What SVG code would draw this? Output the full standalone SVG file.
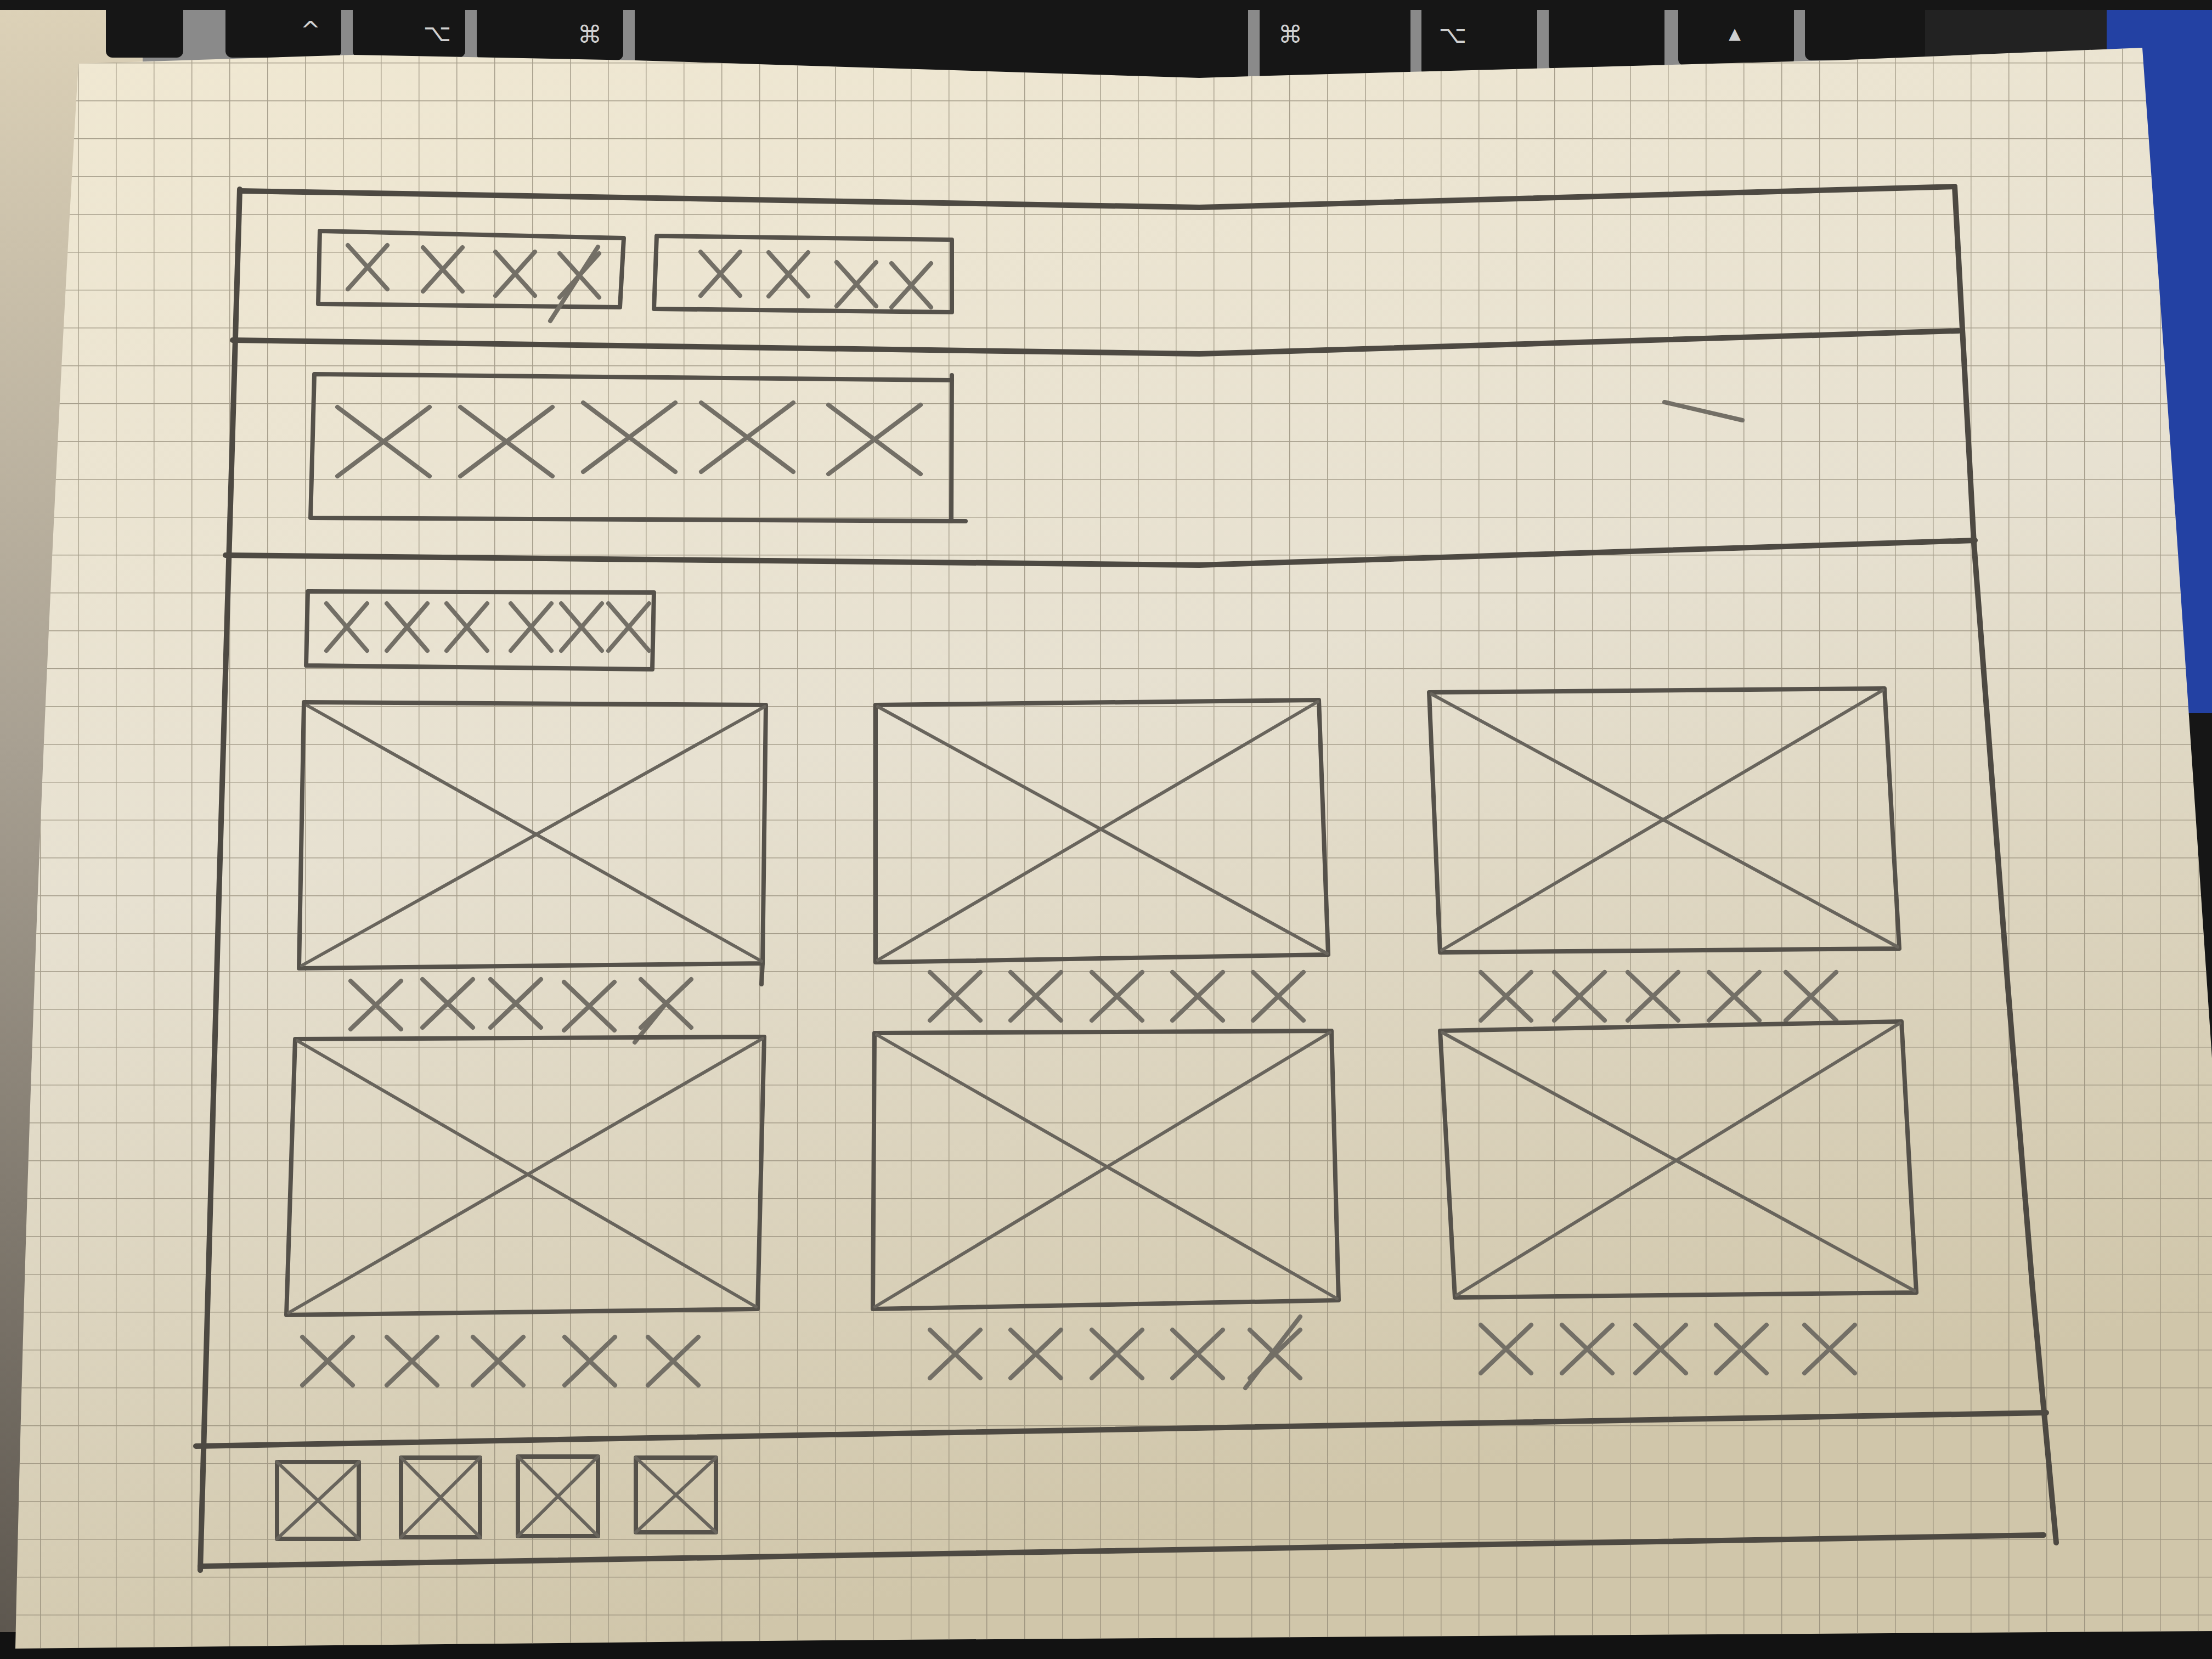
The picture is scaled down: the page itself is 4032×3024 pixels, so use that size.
<svg xmlns="http://www.w3.org/2000/svg" xmlns:xlink="http://www.w3.org/1999/xlink" width="4032" height="3024" viewBox="0 0 4032 3024">
<style>
.frame{fill:none;stroke:#4d4942;stroke-width:10;stroke-linecap:round;stroke-linejoin:round}
.box{fill:none;stroke:#55514a;stroke-width:8;stroke-linecap:round;stroke-linejoin:round}
.diag{fill:none;stroke:#68645c;stroke-width:6;stroke-linecap:round}
.mark{fill:none;stroke:#736f66;stroke-width:8;stroke-linecap:round}
.key{fill:#161616}
.klbl{font-family:"DejaVu Sans",sans-serif;font-size:44px;fill:#d0d0d0;text-anchor:middle}
</style>
<defs>
<linearGradient id="paperG" x1="0" y1="0" x2="0.3" y2="1">
<stop offset="0" stop-color="#f0e8d2"/>
<stop offset="0.5" stop-color="#e7e1d1"/>
<stop offset="1" stop-color="#d0c6aa"/>
</linearGradient>
<linearGradient id="leftG" x1="0" y1="0" x2="0" y2="1">
<stop offset="0" stop-color="#ddd2b8"/>
<stop offset="0.45" stop-color="#a8a092"/>
<stop offset="1" stop-color="#5b554d"/>
</linearGradient>
<pattern id="grid" patternUnits="userSpaceOnUse" x="4" y="45" width="69" height="69">
<path d="M0,0 H69 M0,0 V69" fill="none" stroke="#8a8270" stroke-opacity="0.7" stroke-width="3"/>
</pattern>
<clipPath id="paperClip">
<path d="M143,116 L643,100 L1157,110 L2186,142 L2314,138 L3343,110 L3905,87 L3967,964 L4032,1929 L4032,2973 L1500,2990 L28,3005 Q60,1500 143,116 Z"/>
</clipPath>
<path id="xs" d="M-46,-44 L46,44 M46,-44 L-46,44"/>
<path id="xn" d="M-36,-40 L36,40 M36,-40 L-36,40"/>
<path id="xh" d="M-84,-63 L84,63 M84,-63 L-84,63"/>
<path id="xt" d="M-37,-43 L37,43 M37,-43 L-37,43"/>
</defs>

<!-- background -->
<rect x="0" y="0" width="4032" height="3024" fill="#161616"/>
<rect x="0" y="0" width="4032" height="160" fill="#8a8a8a"/>
<rect x="0" y="0" width="260" height="3024" fill="url(#leftG)"/>
<rect x="3840" y="0" width="192" height="1300" fill="#2341a3"/>
<rect x="3500" y="0" width="340" height="160" fill="#222222"/>
<rect x="0" y="2975" width="4032" height="49" fill="#121212"/>

<!-- keyboard -->
<g id="keyboard">
<rect class="key" x="0" y="-40" width="4032" height="58"/>
<rect class="key" x="193" y="-20" width="141" height="125" rx="12"/>
<rect class="key" x="411" y="-20" width="211" height="125" rx="12"/>
<rect class="key" x="643" y="-20" width="205" height="125" rx="12"/>
<rect class="key" x="869" y="-20" width="267" height="130" rx="12"/>
<rect class="key" x="1157" y="-20" width="1118" height="170" rx="12"/>
<rect class="key" x="2296" y="-20" width="275" height="170" rx="12"/>
<rect class="key" x="2591" y="-20" width="211" height="160" rx="12"/>
<rect class="key" x="2823" y="-20" width="211" height="150" rx="12"/>
<rect class="key" x="3059" y="-20" width="211" height="140" rx="12"/>
<rect class="key" x="3290" y="-20" width="219" height="130" rx="12"/>
<text class="klbl" x="566" y="70">^</text>
<text class="klbl" x="797" y="75">⌥</text>
<text class="klbl" x="1075" y="78">⌘</text>
<text class="klbl" x="2352" y="78">⌘</text>
<text class="klbl" x="2648" y="78">⌥</text>
<text class="klbl" x="3162" y="75">▴</text>
</g>

<!-- paper -->
<g id="paper">
<path d="M143,116 L643,100 L1157,110 L2186,142 L2314,138 L3343,110 L3905,87 L3967,964 L4032,1929 L4032,2973 L1500,2990 L28,3005 Q60,1500 143,116 Z" fill="url(#paperG)"/>
<rect x="0" y="0" width="4032" height="3024" fill="url(#grid)" clip-path="url(#paperClip)"/>
</g>

<!-- page frame and section dividers -->
<g id="page-frame">
<polyline class="frame" points="437,348 2186,378 3563,340"/>
<polyline class="frame" points="437,345 400,1600 365,2862"/>
<polyline class="frame" points="3563,340 3598,990 3660,1800 3705,2350 3748,2812"/>
<polyline class="frame" points="424,620 2186,645 3570,603"/>
<polyline class="frame" points="411,1012 2186,1030 3600,985"/>
<polyline class="frame" points="357,2636 3730,2575"/>
<polyline class="frame" points="365,2855 3725,2798"/>
<path class="mark" d="M3034,733 L3176,766"/>
</g>

<!-- nav item 1 -->
<g id="nav-1">
<polygon class="box" points="583,421 1137,434 1130,560 580,554"/>
<use href="#xn" class="mark" x="670" y="487"/>
<use href="#xn" class="mark" x="807" y="491"/>
<use href="#xn" class="mark" x="939" y="499"/>
<use href="#xn" class="mark" x="1056" y="502"/>
<path class="mark" d="M1090,450 L1003,585"/>
</g>

<!-- nav item 2 -->
<g id="nav-2">
<polygon class="box" points="1197,430 1735,437 1735,569 1192,563"/>
<use href="#xn" class="mark" x="1313" y="499"/>
<use href="#xn" class="mark" x="1437" y="500"/>
<use href="#xn" class="mark" x="1561" y="518"/>
<use href="#xn" class="mark" x="1661" y="520"/>
</g>

<!-- hero title -->
<g id="hero">
<polyline class="box" points="1735,693 573,682 566,944 1760,950"/>
<line class="box" x1="1735" y1="684" x2="1734" y2="950"/>
<use href="#xh" class="mark" x="699" y="805"/>
<use href="#xh" class="mark" x="923" y="805"/>
<use href="#xh" class="mark" x="1147" y="797"/>
<use href="#xh" class="mark" x="1362" y="797"/>
<use href="#xh" class="mark" x="1594" y="801"/>
</g>

<!-- section title -->
<g id="section-title">
<polygon class="box" points="561,1078 1192,1080 1189,1220 558,1213"/>
<use href="#xt" class="mark" x="632" y="1143"/>
<use href="#xt" class="mark" x="742" y="1143"/>
<use href="#xt" class="mark" x="851" y="1143"/>
<use href="#xt" class="mark" x="968" y="1143"/>
<use href="#xt" class="mark" x="1060" y="1143"/>
<use href="#xt" class="mark" x="1146" y="1143"/>
</g>

<!-- cards row 1 -->
<g id="card-1">
<polygon class="box" points="554,1280 1396,1285 1390,1756 545,1765"/>
<line class="box" x1="1390" y1="1756" x2="1388" y2="1794"/>
<line class="diag" x1="560" y1="1286" x2="1388" y2="1752"/>
<line class="diag" x1="1394" y1="1288" x2="550" y2="1760"/>
<use href="#xs" class="mark" x="685" y="1832"/>
<use href="#xs" class="mark" x="816" y="1829"/>
<use href="#xs" class="mark" x="940" y="1829"/>
<use href="#xs" class="mark" x="1074" y="1834"/>
<use href="#xs" class="mark" x="1214" y="1829"/>
<path class="mark" d="M1214,1829 L1157,1900"/>
</g>
<g id="card-2">
<polygon class="box" points="1596,1285 2404,1276 2421,1740 1596,1754"/>
<line class="diag" x1="1600" y1="1288" x2="2419" y2="1738"/>
<line class="diag" x1="2402" y1="1279" x2="1600" y2="1750"/>
<use href="#xs" class="mark" x="1741" y="1816"/>
<use href="#xs" class="mark" x="1888" y="1816"/>
<use href="#xs" class="mark" x="2036" y="1816"/>
<use href="#xs" class="mark" x="2183" y="1816"/>
<use href="#xs" class="mark" x="2330" y="1816"/>
</g>
<g id="card-3">
<polygon class="box" points="2605,1262 3435,1255 3462,1729 2625,1736"/>
<line class="diag" x1="2609" y1="1265" x2="3459" y2="1726"/>
<line class="diag" x1="3432" y1="1258" x2="2628" y2="1732"/>
<use href="#xs" class="mark" x="2745" y="1816"/>
<use href="#xs" class="mark" x="2879" y="1816"/>
<use href="#xs" class="mark" x="3013" y="1816"/>
<use href="#xs" class="mark" x="3161" y="1816"/>
<use href="#xs" class="mark" x="3301" y="1816"/>
</g>

<!-- cards row 2 -->
<g id="card-4">
<polygon class="box" points="538,1894 1393,1890 1381,2386 522,2397"/>
<line class="diag" x1="542" y1="1897" x2="1378" y2="2382"/>
<line class="diag" x1="1390" y1="1893" x2="526" y2="2393"/>
<use href="#xs" class="mark" x="597" y="2481"/>
<use href="#xs" class="mark" x="751" y="2481"/>
<use href="#xs" class="mark" x="908" y="2481"/>
<use href="#xs" class="mark" x="1075" y="2481"/>
<use href="#xs" class="mark" x="1227" y="2481"/>
</g>
<g id="card-5">
<polygon class="box" points="1594,1883 2427,1879 2440,2370 1591,2386"/>
<line class="diag" x1="1598" y1="1886" x2="2437" y2="2367"/>
<line class="diag" x1="2424" y1="1882" x2="1595" y2="2382"/>
<use href="#xs" class="mark" x="1741" y="2468"/>
<use href="#xs" class="mark" x="1888" y="2468"/>
<use href="#xs" class="mark" x="2036" y="2468"/>
<use href="#xs" class="mark" x="2183" y="2468"/>
<use href="#xs" class="mark" x="2324" y="2468"/>
<path class="mark" d="M2370,2400 L2270,2530"/>
</g>
<g id="card-6">
<polygon class="box" points="2625,1879 3466,1862 3493,2356 2652,2365"/>
<line class="diag" x1="2629" y1="1882" x2="3490" y2="2353"/>
<line class="diag" x1="3463" y1="1865" x2="2655" y2="2361"/>
<use href="#xs" class="mark" x="2745" y="2459"/>
<use href="#xs" class="mark" x="2893" y="2459"/>
<use href="#xs" class="mark" x="3027" y="2459"/>
<use href="#xs" class="mark" x="3174" y="2459"/>
<use href="#xs" class="mark" x="3335" y="2459"/>
</g>

<!-- footer icons -->
<g id="footer-icon-1">
<rect class="box" x="505" y="2665" width="149" height="140"/>
<path class="diag" d="M505,2665 L654,2805 M654,2665 L505,2805"/>
</g>
<g id="footer-icon-2">
<rect class="box" x="731" y="2657" width="144" height="145"/>
<path class="diag" d="M731,2657 L875,2802 M875,2657 L731,2802"/>
</g>
<g id="footer-icon-3">
<rect class="box" x="944" y="2655" width="146" height="145"/>
<path class="diag" d="M944,2655 L1090,2800 M1090,2655 L944,2800"/>
</g>
<g id="footer-icon-4">
<rect class="box" x="1159" y="2657" width="146" height="136"/>
<path class="diag" d="M1159,2657 L1305,2793 M1305,2657 L1159,2793"/>
</g>
</svg>
